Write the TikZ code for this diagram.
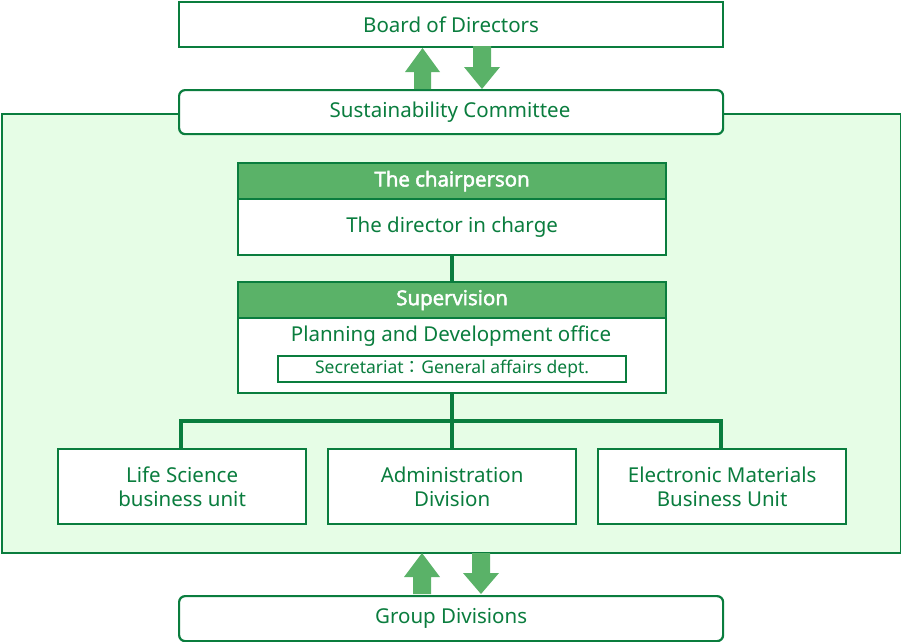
\documentclass[tikz,border=0pt]{standalone}
\usepackage{fontspec}
\setmainfont{Noto Sans}
\newfontfamily\headfont{Open Sans}[FakeBold=2.5]
\newfontfamily\cjkfont{Noto Sans CJK JP}
\definecolor{dgreen}{HTML}{0A7D3E}
\definecolor{mgreen}{HTML}{5AB268}
\definecolor{pgreen}{HTML}{E6FDE6}
\begin{document}
\begin{tikzpicture}[x=1pt,y=-1pt,
  box/.style={draw=dgreen,line width=2.2pt,fill=white,text=dgreen,font=\fontsize{20.5}{24.5}\selectfont,align=center,anchor=north west,inner sep=0pt},
  rbox/.style={box,rounded corners=6pt},
  head/.style={draw=dgreen,line width=2.2pt,fill=mgreen,text=white,font=\headfont\fontsize{20.5}{24}\selectfont,anchor=north west,inner sep=0pt},
  conn/.style={draw=dgreen,line width=3.5pt},
  bigarrow/.style={fill=mgreen,draw=none}]
\useasboundingbox (0,0) rectangle (901,641);
% panel
\node[draw=dgreen,line width=2.2pt,fill=pgreen,anchor=north west,minimum width=899pt,minimum height=439pt,inner sep=0pt] (panel) at (1,113) {};
% top boxes
\node[box,minimum width=544pt,minimum height=45pt] (board) at (178,1) {Board of Directors};
\node[rbox,minimum width=544pt,minimum height=44pt] (sust) at (178,89) {};
\node[text=dgreen,font=\fontsize{20.5}{24.5}\selectfont] (susttext) at (450,112) {Sustainability Committee};
% chair
\node[head,minimum width=428pt,minimum height=36pt] (chair) at (237,162) {The chairperson};
\node[box,minimum width=428pt,minimum height=56pt] (dir) at (237,198) {The director in charge};
% supervision
\node[head,minimum width=428pt,minimum height=36pt] (sup) at (237,281) {Supervision};
\node[box,minimum width=428pt,minimum height=75pt] (plan) at (237,317) {};
\node[text=dgreen,font=\fontsize{20.5}{24.5}\selectfont] (plantext) at (451,336) {Planning and Development office};
\node[draw=dgreen,line width=2.2pt,fill=white,text=dgreen,font=\fontsize{17.5}{20}\selectfont,anchor=north west,minimum width=348pt,minimum height=26pt,inner sep=0pt] (secr) at (277,355) {Secretariat{\cjkfont ：}General affairs dept.};
% bottom boxes
\node[box,minimum width=248pt,minimum height=75pt] (life) at (57,448) {Life Science\\business unit};
\node[box,minimum width=248pt,minimum height=75pt] (admin) at (327,448) {Administration\\Division};
\node[box,minimum width=248pt,minimum height=75pt] (elec) at (597,448) {Electronic Materials\\Business Unit};
% group
\node[rbox,minimum width=544pt,minimum height=45pt] (group) at (178,595) {Group Divisions};
% connectors
\draw[conn] (dir.south) -- (sup.north);
\coordinate (j) at (plan.south |- 0,421);
\draw[conn] (plan.south) -- (j);
\draw[conn] (life.north -| 181,0) |- (j) -| (elec.north -| 721,0);
\draw[conn] (j) -- (admin.north -| j);
% arrows top
\fill[bigarrow] (414,89) -- (414,72) -- (405,72) -- (422.5,48) -- (440,72) -- (431,72) -- (431,89) -- cycle;
\fill[bigarrow] (473,46) -- (473,67) -- (464,67) -- (482,89) -- (500,67) -- (491,67) -- (491,46) -- cycle;
% arrows bottom
\fill[bigarrow] (413,594) -- (413,577) -- (404,577) -- (422,553) -- (440,577) -- (431,577) -- (431,594) -- cycle;
\fill[bigarrow] (472,553) -- (472,573) -- (463,573) -- (481,594) -- (499,573) -- (490,573) -- (490,553) -- cycle;
\end{tikzpicture}
\end{document}
